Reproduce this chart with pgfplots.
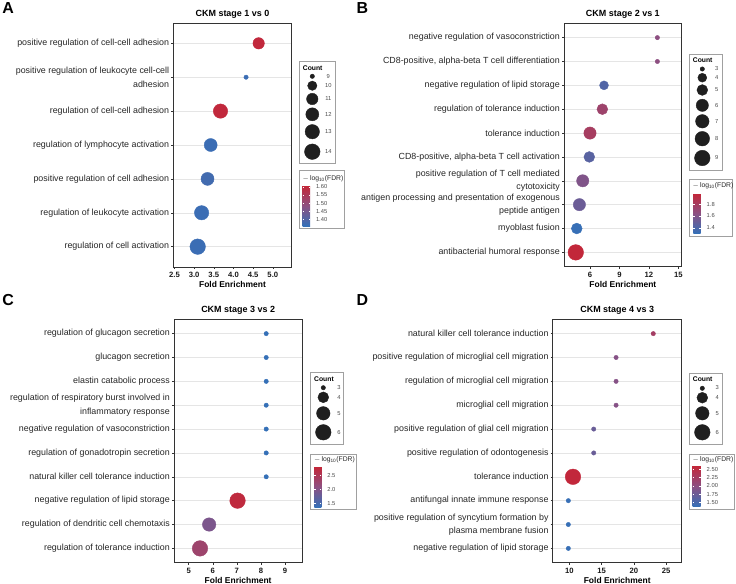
\documentclass[border=0pt]{standalone}
\usepackage{fontspec}
\setmainfont{Liberation Sans}
\usepackage{pgfplots}
\pgfplotsset{compat=1.18}
\usetikzlibrary{calc}

\definecolor{axgray}{RGB}{51,51,51}
\definecolor{leggray}{RGB}{160,160,160}

\pgfplotsset{
  colorbar shift/.style={},
  colormap={ckm}{rgb255=(52,112,184) rgb255=(140,80,130) rgb255=(196,38,56)},
  ckmpanel/.style={
    scale only axis, anchor=north west,
    y dir=reverse, enlargelimits=false,
    colormap name=ckm,
    axis line style={axgray, line width=0.75bp},
    ymajorgrids, grid style={black!10, line width=0.5bp},
    tick pos=left, tick align=outside, major tick length=2bp,
    tick style={axgray, line width=0.5bp},
    yticklabel style={font=\fontsize{8.9}{13.3}\selectfont, text=black!85, align=right, inner sep=2bp},
    xticklabel style={font=\bfseries\fontsize{7.7}{8}\selectfont, text=black!90},
    /pgf/number format/assume math mode=true,
    xlabel={Fold Enrichment},
    xlabel style={at={(axis description cs:0.5,0)}, anchor=base, yshift=-20.3bp, font=\bfseries\fontsize{8.5}{9}\selectfont},
    every axis title/.style={at={(axis description cs:0.5,1)}, anchor=base, yshift=6.8bp, font=\bfseries\fontsize{9}{10}\selectfont},
    clip=false,
    colorbar,
  },
  ckmbar/.style={
    anchor=north west, scale only axis,
    axis line style={draw=none},
    tick align=inside, major tick length=1.3bp,
    tick style={white, line width=0.35bp},
    ytick pos=both, yticklabel pos=right,
    yticklabel style={font=\fontsize{5.8}{6}\selectfont, text=black!70, xshift=2.5bp},
  },
  ckmpts/.style={scatter, only marks, mark=*, point meta=explicit,
    scatter/use mapped color={draw=mapped color, fill=mapped color}},
}

\begin{document}
\begin{tikzpicture}
\useasboundingbox (0,0) rectangle (736bp,-584bp);

% ---------------- Panel A ----------------
\begin{axis}[ckmpanel, at={(173.3bp,-23bp)}, width=118.4bp, height=244bp,
  xmin=2.47, xmax=5.48, xtick={2.5,3,3.5,4,4.5,5},
  xticklabels={2.5,3.0,3.5,4.0,4.5,5.0},
  ymin=0.4, ymax=7.6, ytick={1,...,7},
  yticklabels={{positive regulation of cell-cell adhesion},
    {positive regulation of leukocyte cell-cell\\adhesion},
    {regulation of cell-cell adhesion},
    {regulation of lymphocyte activation},
    {positive regulation of cell adhesion},
    {regulation of leukocyte activation},
    {regulation of cell activation}},
  title={CKM stage 1 vs 0},
  point meta min=1.36, point meta max=1.606,
  colorbar style={ckmbar, at={($(parent axis.north west)+(129.4bp,-162.7bp)$)},
    width=7.3bp, height=40.3bp,
    ytick={1.40,1.45,1.50,1.55,1.60}, yticklabels={1.40,1.45,1.50,1.55,1.60}}]
\addplot[ckmpts, visualization depends on={2.2+5.6*sqrt((\thisrow{count}-9)/5) \as \rad},
  scatter/@pre marker code/.append style={/tikz/mark size=\rad}]
  table[x=fe, y=row, meta=fdr] {
row fe count fdr
1 4.64 11 1.60
2 4.32 9 1.37
3 3.67 13 1.60
4 3.42 12 1.37
5 3.34 12 1.38
6 3.19 13 1.37
7 3.09 14 1.37
};
\end{axis}

% ---------------- Panel B ----------------
\begin{axis}[ckmpanel, at={(564bp,-23.3bp)}, width=117.7bp, height=243.4bp,
  xmin=3.35, xmax=15.35, xtick={6,9,12,15},
  ymin=0.4, ymax=10.6, ytick={1,...,10},
  yticklabels={{negative regulation of vasoconstriction},
    {CD8-positive, alpha-beta T cell differentiation},
    {negative regulation of lipid storage},
    {regulation of tolerance induction},
    {tolerance induction},
    {CD8-positive, alpha-beta T cell activation},
    {positive regulation of T cell mediated\\cytotoxicity},
    {antigen processing and presentation of exogenous\\peptide antigen},
    {myoblast fusion},
    {antibacterial humoral response}},
  title={CKM stage 2 vs 1},
  point meta min=1.31, point meta max=1.98,
  colorbar style={ckmbar, at={($(parent axis.north west)+(129.3bp,-170bp)$)},
    width=7.4bp, height=40bp,
    ytick={1.4,1.6,1.8}, yticklabels={1.4,1.6,1.8}}]
\addplot[ckmpts, visualization depends on={2.2+5.6*sqrt((\thisrow{count}-3)/6) \as \rad},
  scatter/@pre marker code/.append style={/tikz/mark size=\rad}]
  table[x=fe, y=row, meta=fdr] {
row fe count fdr
1 12.87 3 1.65
2 12.87 3 1.65
3 7.43 4 1.42
4 7.26 5 1.75
5 6.00 6 1.80
6 5.93 5 1.45
7 5.26 6 1.60
8 4.92 6 1.52
9 4.65 5 1.32
10 4.55 9 1.97
};
\end{axis}

% ---------------- Panel C ----------------
\begin{axis}[ckmpanel, at={(174bp,-319.3bp)}, width=128.3bp, height=243.4bp,
  xmin=4.39, xmax=9.72, xtick={5,6,7,8,9},
  ymin=0.4, ymax=10.6, ytick={1,...,10},
  yticklabels={{regulation of glucagon secretion},
    {glucagon secretion},
    {elastin catabolic process},
    {regulation of respiratory burst involved in\\inflammatory response},
    {negative regulation of vasoconstriction},
    {regulation of gonadotropin secretion},
    {natural killer cell tolerance induction},
    {negative regulation of lipid storage},
    {regulation of dendritic cell chemotaxis},
    {regulation of tolerance induction}},
  title={CKM stage 3 vs 2},
  point meta min=1.36, point meta max=2.81,
  colorbar style={ckmbar, at={($(parent axis.north west)+(140.3bp,-147.4bp)$)},
    width=7bp, height=40.6bp,
    ytick={1.5,2.0,2.5}, yticklabels={1.5,2.0,2.5}}]
\addplot[ckmpts, visualization depends on={2.2+5.6*sqrt((\thisrow{count}-3)/3) \as \rad},
  scatter/@pre marker code/.append style={/tikz/mark size=\rad}]
  table[x=fe, y=row, meta=fdr] {
row fe count fdr
1 8.22 3 1.37
2 8.22 3 1.37
3 8.22 3 1.37
4 8.22 3 1.37
5 8.22 3 1.37
6 8.22 3 1.37
7 8.22 3 1.37
8 7.03 6 2.75
9 5.85 5 1.95
10 5.47 6 2.30
};
\end{axis}

% ---------------- Panel D ----------------
\begin{axis}[ckmpanel, at={(552.7bp,-319.3bp)}, width=129bp, height=243.4bp,
  xmin=7.43, xmax=27.4, xtick={10,15,20,25},
  ymin=0.4, ymax=10.6, ytick={1,...,10},
  yticklabels={{natural killer cell tolerance induction},
    {positive regulation of microglial cell migration},
    {regulation of microglial cell migration},
    {microglial cell migration},
    {positive regulation of glial cell migration},
    {positive regulation of odontogenesis},
    {tolerance induction},
    {antifungal innate immune response},
    {positive regulation of syncytium formation by\\plasma membrane fusion},
    {negative regulation of lipid storage}},
  title={CKM stage 4 vs 3},
  point meta min=1.38, point meta max=2.60,
  colorbar style={ckmbar, at={($(parent axis.north west)+(140bp,-146.4bp)$)},
    width=8bp, height=41bp,
    ytick={1.5,1.75,2.0,2.25,2.5}, yticklabels={1.50,1.75,2.00,2.25,2.50}}]
\addplot[ckmpts, visualization depends on={2.2+5.6*sqrt((\thisrow{count}-3)/3) \as \rad},
  scatter/@pre marker code/.append style={/tikz/mark size=\rad}]
  table[x=fe, y=row, meta=fdr] {
row fe count fdr
1 23.00 3 2.25
2 17.24 3 1.95
3 17.24 3 1.95
4 17.24 3 1.95
5 13.78 3 1.75
6 13.78 3 1.75
7 10.57 6 2.58
8 9.85 3 1.40
9 9.85 3 1.40
10 9.85 3 1.40
};
\end{axis}

% ---------------- Count legend glyphs (overlay axis in px units) ----------------
\begin{axis}[at={(0,0)}, anchor=north west, scale only axis, width=736bp, height=584bp,
  xmin=0, xmax=736, ymin=0, ymax=584, y dir=reverse, hide axis, clip=false]
\addplot[scatter, only marks, mark=*, point meta=y, scatter/use mapped color={draw=black!88, fill=black!88},
  visualization depends on={2.2+5.6*sqrt((\thisrow{c}-9)/5) \as \rad},
  scatter/@pre marker code/.append style={/tikz/mark size=\rad}]
  table[x=x, y=y] {
x y c
312.3 76.3 9
312.3 85.7 10
312.3 99 11
312.3 114.3 12
312.3 131.7 13
312.3 151.7 14
};
\addplot[scatter, only marks, mark=*, point meta=y, scatter/use mapped color={draw=black!88, fill=black!88},
  visualization depends on={2.2+5.6*sqrt((\thisrow{c}-3)/6) \as \rad},
  scatter/@pre marker code/.append style={/tikz/mark size=\rad}]
  table[x=x, y=y] {
x y c
702.3 69 3
702.3 77.7 4
702.3 90 5
702.3 105.3 6
702.3 121.3 7
702.3 138.7 8
702.3 158 9
};
\addplot[scatter, only marks, mark=*, point meta=y, scatter/use mapped color={draw=black!88, fill=black!88},
  visualization depends on={2.2+5.6*sqrt((\thisrow{c}-3)/3) \as \rad},
  scatter/@pre marker code/.append style={/tikz/mark size=\rad}]
  table[x=x, y=y] {
x y c
323.3 387.7 3
323.3 397.3 4
323.3 413.3 5
323.3 432.3 6
702.3 388.3 3
702.3 397.7 4
702.3 413.3 5
702.3 432.3 6
};
\end{axis}

% ---------------- Panel letters, legend boxes and texts ----------------
\foreach \lt/\xx/\yy in {A/2.3/13.6, B/356.5/13.6, C/2.3/305.3, D/356.5/305.3}{
  \node[anchor=base west, inner sep=0pt, font=\bfseries\fontsize{16}{16}\selectfont] at (\xx bp,-\yy bp) {\lt};
}
\foreach \xa/\ya/\xb/\yb in {299.3/61/335.7/163.3, 299.3/170/344/228.3, 689.3/54.3/722.3/170,
  689.3/179/732.7/236, 310.7/372.7/343.3/444.3, 310.7/454.3/356/509.3,
  689.3/373.3/722.3/444.3, 689.3/454.3/734.3/509.3}{
  \draw[leggray, line width=0.6bp] (\xa bp,-\ya bp) rectangle (\xb bp,-\yb bp);
}
\foreach \xx/\yy in {302.7/67.7, 692.7/60.3, 314/379.3, 692.7/379.3}{
  \node[anchor=west, inner sep=0pt, font=\bfseries\fontsize{6.8}{7}\selectfont] at (\xx bp,-\yy bp) {Count};
}
\foreach \xx/\yy in {302.5/178.5, 692.5/185.5, 314/460, 692.5/460}{
  \node[anchor=west, inner sep=0pt, font=\fontsize{6.8}{7}\selectfont, text=black!85] at (\xx bp,-\yy bp) {$-$\,log\textsubscript{10}(FDR)};
}
\foreach \v/\yy in {9/76.3, 10/85.7, 11/99, 12/114.3, 13/131.7, 14/151.7}{
  \node[font=\fontsize{5.8}{6}\selectfont, text=black!70] at (328.3bp,-\yy bp) {\v};
}
\foreach \v/\yy in {3/69, 4/77.7, 5/90, 6/105.3, 7/121.3, 8/138.7, 9/158}{
  \node[font=\fontsize{5.8}{6}\selectfont, text=black!70] at (716.7bp,-\yy bp) {\v};
}
\foreach \v/\yy in {3/387.7, 4/397.3, 5/413.3, 6/432.3}{
  \node[font=\fontsize{5.8}{6}\selectfont, text=black!70] at (339bp,-\yy bp) {\v};
  \node[font=\fontsize{5.8}{6}\selectfont, text=black!70] at (717.3bp,-\yy bp) {\v};
}
\end{tikzpicture}
\end{document}
